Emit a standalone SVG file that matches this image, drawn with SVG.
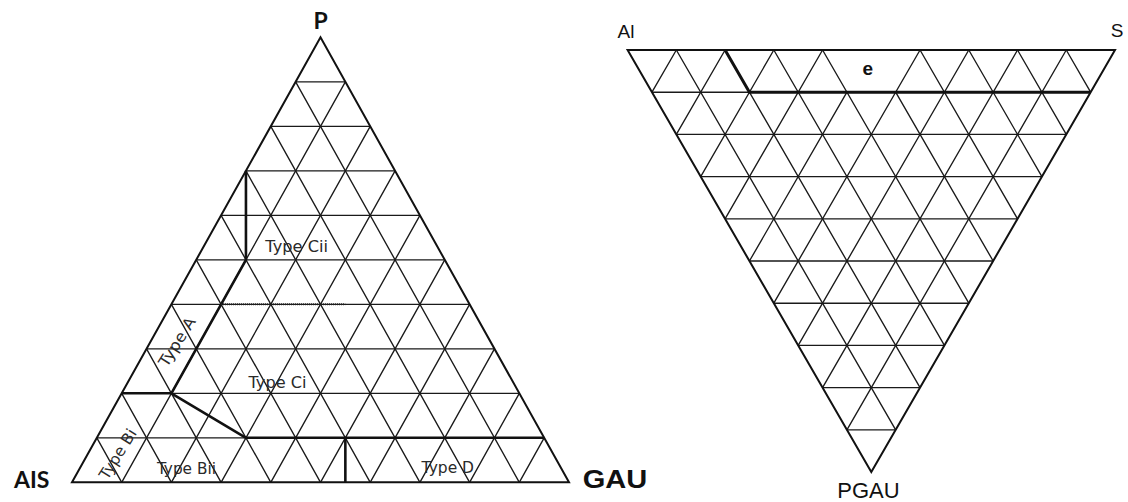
<svg xmlns="http://www.w3.org/2000/svg" width="1128" height="502" viewBox="0 0 1128 502">
<style>
.bg{fill:#ffffff}
.edge{fill:none;stroke:#111;stroke-width:2;stroke-linejoin:miter}
.grid{fill:none;stroke:#1a1a1a;stroke-width:1.35}
.thick{fill:none;stroke:#111;stroke-width:2.6;stroke-linejoin:round}
.dot{fill:none;stroke:#222;stroke-width:2;stroke-dasharray:1 1}
.type{font-family:"DejaVu Sans","Liberation Sans",sans-serif;font-size:15.5px;fill:#2a2a2a;text-anchor:middle}
.lab{font-family:"Liberation Sans",Arial,sans-serif;fill:#111;text-anchor:middle}
.labb{font-family:Lato,"Liberation Sans",sans-serif;font-weight:bold;fill:#111;text-anchor:middle}
</style>
<rect class="bg" x="0" y="0" width="1128" height="502"/>

<g id="left-ternary">
  <g id="left-grid" class="grid">
    <path d="M96.85 437.8H544.15M121.7 393.3H519.3M146.55 348.8H494.45M171.4 304.3H469.6M196.25 259.8H444.75M221.1 215.3H419.9M245.95 170.8H395.05M270.8 126.3H370.2M295.65 81.8H345.35"/>
    <path d="M121.7 482.3L345.35 81.8M171.4 482.3L370.2 126.3M221.1 482.3L395.05 170.8M270.8 482.3L419.9 215.3M320.5 482.3L444.75 259.8M370.2 482.3L469.6 304.3M419.9 482.3L494.45 348.8M469.6 482.3L519.3 393.3M519.3 482.3L544.15 437.8"/>
    <path d="M121.7 482.3L96.85 437.8M171.4 482.3L121.7 393.3M221.1 482.3L146.55 348.8M270.8 482.3L171.4 304.3M320.5 482.3L196.25 259.8M370.2 482.3L221.1 215.3M419.9 482.3L245.95 170.8M469.6 482.3L270.8 126.3M519.3 482.3L295.65 81.8"/>
  </g>
  <path id="left-outline" class="edge" d="M72 482.3L320.5 37.3L569 482.3Z"/>
  <g id="left-boundaries">
    <path class="thick" d="M245.95 170.8V259.8L171.4 393.3L245.95 437.8H544.15"/>
    <path class="thick" d="M121.7 393.3H171.4"/>
    <path class="thick" d="M345.35 437.8V482.3"/>
    <path class="dot" d="M221.1 304.3H345.35"/>
  </g>
  <g id="left-fields">
    <text class="type" x="296.7" y="251.5" textLength="62.7" lengthAdjust="spacingAndGlyphs">Type Cii</text>
    <text class="type" x="277.5" y="387.5" textLength="58" lengthAdjust="spacingAndGlyphs">Type Ci</text>
    <text class="type" x="186.4" y="474" textLength="59" lengthAdjust="spacingAndGlyphs">Type Bii</text>
    <text class="type" x="447.8" y="472.5" textLength="52.4" lengthAdjust="spacingAndGlyphs">Type D</text>
    <text class="type" transform="translate(177 341.7) rotate(-58)" x="0" y="5.5" textLength="55" lengthAdjust="spacingAndGlyphs">Type A</text>
    <text class="type" transform="translate(117.7 454) rotate(-58)" x="0" y="5.5" textLength="56" lengthAdjust="spacingAndGlyphs">Type Bi</text>
  </g>
  <g id="left-vertices">
    <text class="labb" x="320.5" y="29" font-size="23">P</text>
    <text class="labb" x="31.7" y="488.3" font-size="23">AIS</text>
    <text class="lab" x="615" y="487.7" font-size="25.5" font-weight="bold" textLength="64.6" lengthAdjust="spacingAndGlyphs">GAU</text>
  </g>
</g>

<g id="right-ternary">
  <g id="right-grid" class="grid">
    <path d="M651.97 92.2H1090.63M676.34 134.4H1066.26M700.71 176.6H1041.89M725.08 218.8H1017.52M749.45 261H993.15M773.82 303.2H968.78M798.19 345.4H944.41M822.56 387.6H920.04M846.93 429.8H895.67"/>
    <path d="M676.34 50L895.67 429.8M725.08 50L920.04 387.6M773.82 50L944.41 345.4M822.56 50L968.78 303.2M895.67 92.2L993.15 261M920.04 50L1017.52 218.8M968.78 50L1041.89 176.6M1017.52 50L1066.26 134.4M1066.26 50L1090.63 92.2"/>
    <path d="M676.34 50L651.97 92.2M725.08 50L676.34 134.4M773.82 50L700.71 176.6M822.56 50L725.08 218.8M846.93 92.2L749.45 261M920.04 50L773.82 303.2M968.78 50L798.19 345.4M1017.52 50L822.56 387.6M1066.26 50L846.93 429.8"/>
  </g>
  <path id="right-outline" class="edge" d="M627.6 50H1115L871.3 472Z"/>
  <path id="right-boundary" class="thick" d="M725.08 50L749.45 92.2H1090.63" style="stroke-width:3"/>
  <g id="right-labels">
    <text class="lab" x="626" y="38.3" font-size="19">Al</text>
    <text class="lab" x="1117" y="37.3" font-size="19">S</text>
    <text class="lab" x="867.7" y="75" font-size="19" font-weight="bold">e</text>
    <text class="lab" x="868.5" y="498.3" font-size="22">PGAU</text>
  </g>
</g>
</svg>
